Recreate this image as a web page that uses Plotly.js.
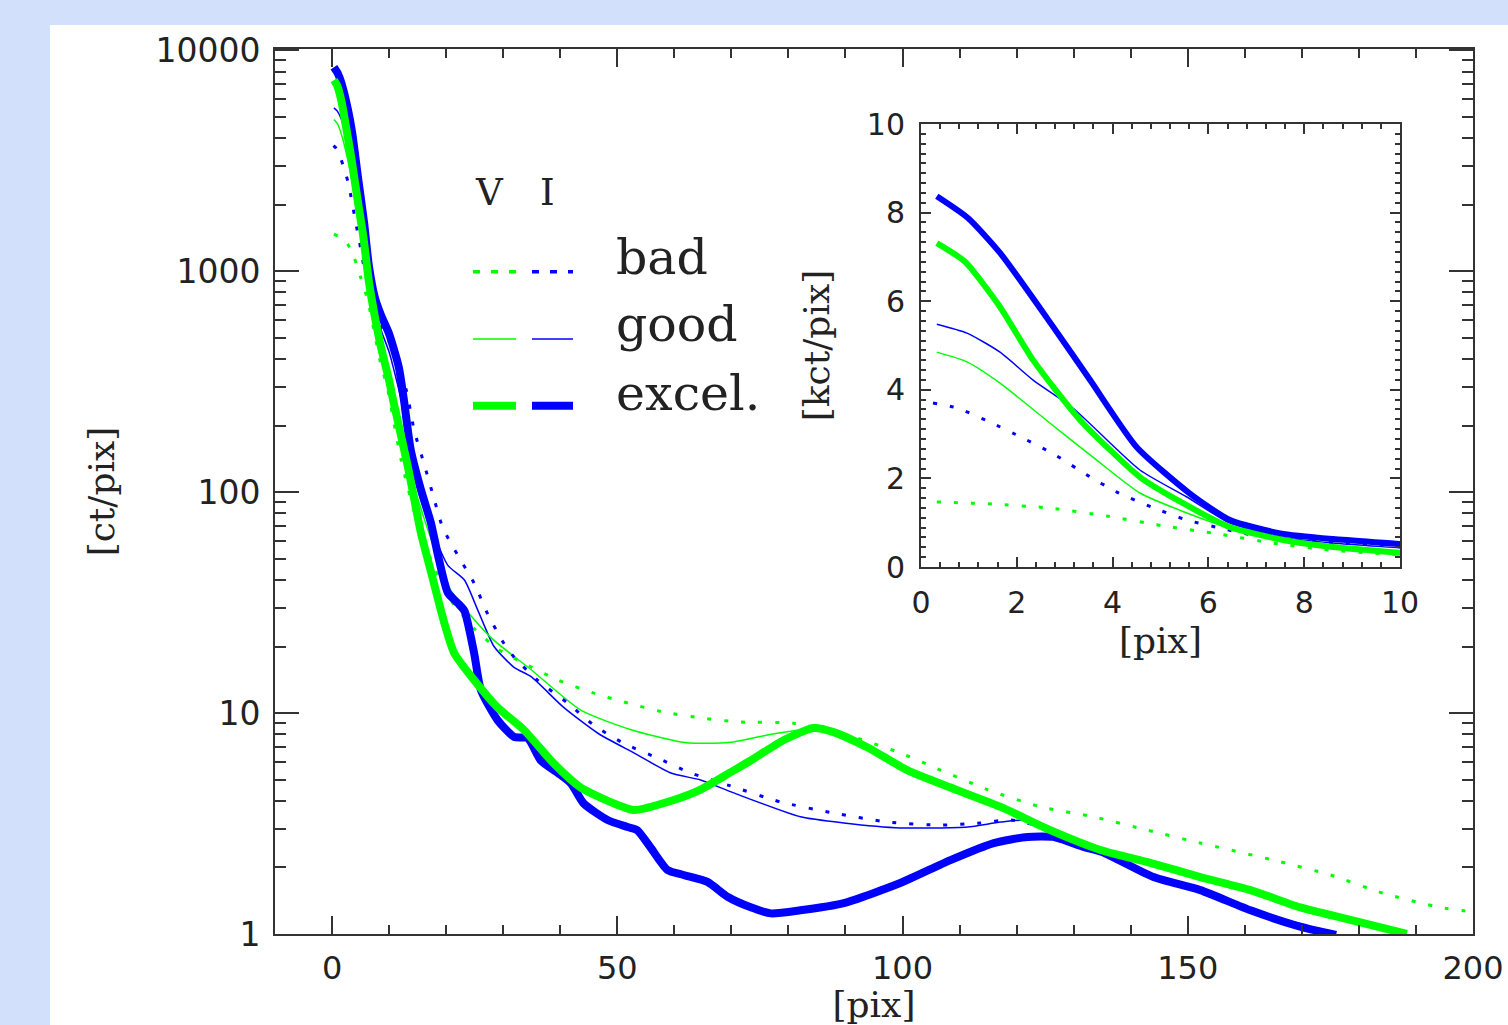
<!DOCTYPE html>
<html><head><meta charset="utf-8">
<script src="https://cdn.plot.ly/plotly-3.0.1.min.js"></script>
<style>
html,body{margin:0;padding:0;background:#d2e0fb;width:1508px;height:1025px;overflow:hidden;}
#chart{position:absolute;left:50px;top:25px;width:1458px;height:1000px;}
</style></head><body><div id="chart"></div>
<script>
// ---- data (x in pix, y in ct/pix) ----
const xIexcel = [0.33,0.98,1.65,2.76,3.53,4.5,5.6,6.45,7.5,8.6,10,11.7,12.6,13.8,15.6,17.3,18.7,20.3,22,23.2,24.9,26.1,29,31.9,34.3,36.6,39.6,41.9,44.1,48.3,51.8,53.5,55.9,58.8,61.6,65.8,69.4,73.4,76.9,82.1,89.7,99.6,108.4,116,121.9,126.4,131.7,135,144,152.2,161,169.7,176];
const yIexcel = [8370,7880,7090,5420,4220,2710,1670,1060,760,630,520,368,261,155,102,73,50,35,31.5,29,18.7,12.7,9.3,7.8,7.7,6.1,5.35,4.8,3.9,3.28,3.05,2.95,2.45,1.95,1.85,1.72,1.47,1.32,1.24,1.28,1.38,1.70,2.16,2.58,2.75,2.75,2.48,2.35,1.81,1.58,1.28,1.08,0.99];

const xVexcel = [0.33,0.92,1.65,2.34,3.32,4.57,5.47,6.45,7.56,8.6,10,10.7,13.3,15.6,17.3,19.6,21.4,24.9,29,33.6,38.9,43.6,49.4,53,59.9,64.6,69.9,73.4,79.2,84.4,87.9,93.8,100.9,108.4,117.2,125.9,134.7,143.4,152.2,161,169.7,178.5,188.4];
const yVexcel = [7310,6890,5870,4670,3320,2030,1440,900,610,450,320,261,130,65,44,26,18.7,14.1,10.6,8.4,5.9,4.6,3.9,3.64,4.04,4.5,5.4,6.1,7.55,8.55,8.2,7.0,5.5,4.6,3.76,2.95,2.4,2.1,1.81,1.58,1.32,1.16,1.0];

const xIgood = [0.33,0.96,1.65,2.34,3.17,4.57,5.55,6.45,7.5,8.6,10,12,14,16,18,20.3,23.2,25.6,28.4,31.9,34.9,40.6,46.6,52.9,59.4,64.6,70.4,82.1,89.7,99.6,111.4,117.2,123,126.4,134.7,143.4,152.2,161,169.7,178.5,185];
const yIgood = [5480,5280,4850,4220,3590,2190,1580,990,680,540,430,270,160,98,63,46.6,40,29,20,16.1,14.6,10.6,8.1,6.6,5.35,4.98,4.35,3.39,3.18,3.02,3.05,3.21,3.28,2.95,2.4,2.1,1.81,1.58,1.32,1.16,1.05];

const xVgood = [0.33,0.96,1.65,2.69,3.59,4.57,5.55,6.45,7.56,8.6,10,12,14,16,17.3,20.8,27.8,34.9,43.6,52.4,61.1,64.6,70.4,76.3,82.1,84.4,87.9,93.8,100.9,108.4,117.2,125.9,134.7,143.4,152.2,161,169.7,178.5,188.4];
const yVgood = [4850,4630,4150,3250,2480,1670,1220,880,610,450,320,190,115,78,62,36,22,15.7,10.3,8.4,7.4,7.3,7.4,7.95,8.4,8.55,8.2,7.0,5.5,4.6,3.76,2.95,2.4,2.1,1.81,1.58,1.32,1.16,1.0];

const xIbad = [0.25,0.75,1.44,2.13,2.8,3.46,4.09,4.82,5.55,6.24,6.93,8.5,10,13,14.4,16.1,17.7,19.4,22,24.9,27.3,30.1,31.9,36,41.3,45.9,51.1,57.1,62.9,69.4,78.6,87.9,97.4,106.7,113.7,118.9,126,134.7,143.4,152.2,161,169.7,178.5,185];
const yIbad = [3700,3590,3270,2910,2530,2080,1690,1350,1060,880,720,560,480,290,190,135,97,69,52,38.7,28,20.7,17.9,14.1,11.1,8.8,7.3,6.25,5.35,4.72,3.96,3.53,3.21,3.11,3.18,3.28,2.98,2.4,2.1,1.81,1.58,1.32,1.16,1.05];

const xVbad = [0.33,1.5,2.69,3.88,5.05,6.24,7.35,8.54,9.65,12.1,15,18,21,25,29,33.6,39.6,45.9,51.8,58.1,64.6,71.6,80.9,90.3,99.6,105.4,114.9,124.2,133.5,142.9,152.2,165,175,184.2,194.2,200];
const yVbad = [1470,1420,1330,1150,930,740,540,380,300,140,72,45,32,24,19.5,16.8,14.1,12.3,11.1,10.1,9.5,9.1,9.0,7.95,6.6,5.7,4.5,3.76,3.39,2.95,2.58,2.16,1.85,1.53,1.32,1.26];

const yTickVals = [1,10,100,1000,10000];
const yTickText = ["1","10","100","1000","10000"];
const xTickVals = [0,50,100,150,200];
const insetTickVals = [0,2,4,6,8,10];
const legendLabels = ["bad","good","excel."];
const legendHeader = ["V","I"];

// ---- styling ----
const GREEN = "#00ff00", BLUE = "#0000ff";
const SERIF = "DejaVu Serif, serif";
const SANS = "DejaVu Sans, sans-serif";
const AXC = "#333333";
const styles = {
  good:  {width:1.5, dash:"solid"},
  bad:   {width:3, dash:"4px,13px"},
  excel: {width:8, dash:"solid"}
};

const series = [
  {x:xIgood, y:yIgood, c:BLUE,  s:"good"},
  {x:xVgood, y:yVgood, c:GREEN, s:"good"},
  {x:xIbad,  y:yIbad,  c:BLUE,  s:"bad"},
  {x:xVbad,  y:yVbad,  c:GREEN, s:"bad"},
  {x:xIexcel,y:yIexcel,c:BLUE,  s:"excel"},
  {x:xVexcel,y:yVexcel,c:GREEN, s:"excel"}
];

const traces = [];
series.forEach(sr => {
  const st = styles[sr.s];
  const line = {color:sr.c, width:st.width, dash:st.dash, shape:"spline", smoothing:0.6};
  traces.push({x:sr.x, y:sr.y, mode:"lines", line:line, xaxis:"x", yaxis:"y", hoverinfo:"skip", showlegend:false});
  const lineI = Object.assign({}, line, {width: sr.s==="excel" ? 6 : st.width});
  traces.push({x:sr.x, y:sr.y.map(v=>v/1000), mode:"lines", line:lineI, xaxis:"x2", yaxis:"y2", hoverinfo:"skip", showlegend:false});
});

const logMinor = [];
for (let d=0; d<5; d++) for (let k=2; k<=9; k++) logMinor.push(k*Math.pow(10,d));

// page px -> paper coords (plot area 275..1473 x, 49..934 y)
const PX = px => (px-275)/1198;
const PY = py => (934-py)/885;

const axBase = {showline:true, linecolor:AXC, linewidth:2, mirror:"allticks", ticks:"inside",
  tickcolor:AXC, tickwidth:2, showgrid:false, zeroline:false};

const shapes = [];
const legY = [271.7, 339, 405.7];
const legStyles = [
  {w:3.5, dash:"7px,11px"},
  {w:1.5, dash:"solid"},
  {w:8, dash:"solid"}
];
legY.forEach((py,i) => {
  shapes.push({type:"line", xref:"paper", yref:"paper", x0:PX(473), x1:PX(516), y0:PY(py), y1:PY(py),
    line:{color:GREEN, width:legStyles[i].w, dash:legStyles[i].dash}});
  shapes.push({type:"line", xref:"paper", yref:"paper", x0:PX(532), x1:PX(573), y0:PY(py), y1:PY(py),
    line:{color:BLUE, width:legStyles[i].w, dash:legStyles[i].dash}});
});

const annotations = [];
const labY = [258, 324, 393];
legendLabels.forEach((t,i) => annotations.push({text:t, xref:"paper", yref:"paper", x:PX(614), y:PY(labY[i]),
  xanchor:"left", yanchor:"middle", showarrow:false, font:{family:SERIF, size:49, color:"#222"}}));
annotations.push({text:legendHeader[0], xref:"paper", yref:"paper", x:PX(489), y:PY(192), xanchor:"center", yanchor:"middle",
  showarrow:false, font:{family:SERIF, size:37, color:"#222"}});
annotations.push({text:legendHeader[1], xref:"paper", yref:"paper", x:PX(547), y:PY(192), xanchor:"center", yanchor:"middle",
  showarrow:false, font:{family:SERIF, size:37, color:"#222"}});

const layout = {
  width:1458, height:1000,
  margin:{l:225, r:35, t:24, b:91},
  paper_bgcolor:"#ffffff", plot_bgcolor:"rgba(0,0,0,0)",
  showlegend:false,
  xaxis: Object.assign({}, axBase, {
    range:[-10,200], tickmode:"array", tickvals:xTickVals, ticklen:18,
    minor:{dtick:10, tick0:0, ticklen:9, ticks:"inside", tickcolor:AXC, tickwidth:2},
    tickfont:{family:SANS, size:32, color:"#222"}, ticklabelstandoff:5,
    title:{text:"[pix]", font:{family:SERIF, size:36, color:"#222"}, standoff:30},
    domain:[0,1], anchor:"y"
  }),
  yaxis: Object.assign({}, axBase, {
    type:"log", range:[0,4.005], tickmode:"array", tickvals:yTickVals, ticktext:yTickText, ticklen:24,
    minor:{tickmode:"array", tickvals:logMinor, ticklen:11, ticks:"inside", tickcolor:AXC, tickwidth:2},
    tickfont:{family:SANS, size:33, color:"#222"}, ticklabelstandoff:6,
    title:{text:"[ct/pix]", font:{family:SERIF, size:36, color:"#222"}, standoff:30},
    domain:[0,1], anchor:"x"
  }),
  xaxis2: Object.assign({}, axBase, {
    range:[0,10], tickmode:"array", tickvals:insetTickVals, ticklen:10,
    minor:{dtick:0.4, tick0:0, ticklen:5, ticks:"inside", tickcolor:AXC, tickwidth:2},
    tickfont:{family:SANS, size:30, color:"#222"}, ticklabelstandoff:8,
    title:{text:"[pix]", font:{family:SERIF, size:36, color:"#222"}, standoff:8},
    domain:[PX(921), PX(1400)], anchor:"y2"
  }),
  yaxis2: Object.assign({}, axBase, {
    range:[0,10], tickmode:"array", tickvals:insetTickVals, ticklen:10,
    minor:{dtick:0.2222222, tick0:0, ticklen:5, ticks:"inside", tickcolor:AXC, tickwidth:2},
    tickfont:{family:SANS, size:30, color:"#222"}, ticklabelstandoff:8,
    title:{text:"[kct/pix]", font:{family:SERIF, size:36, color:"#222"}, standoff:26},
    domain:[PY(567), PY(124)], anchor:"x2"
  }),
  shapes:shapes,
  annotations:annotations
};

Plotly.newPlot("chart", traces, layout, {staticPlot:true, displayModeBar:false});
</script></body></html>
